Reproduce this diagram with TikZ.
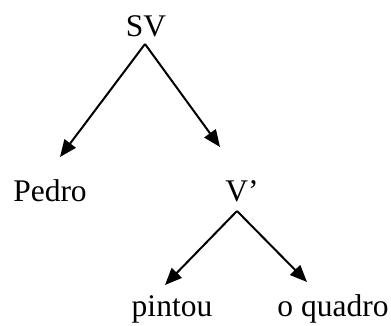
\documentclass[tikz,border=0pt]{standalone}
\usepackage{fontspec}
\setmainfont{Liberation Serif}
\usetikzlibrary{arrows.meta}
\begin{document}
\begin{tikzpicture}[x=1pt,y=-1pt,
  lbl/.style={anchor=base,inner sep=0pt,font=\fontsize{31.5}{36}\selectfont},
  arr/.style={line width=2pt,-{Triangle[length=17pt,width=14pt]}}]
\useasboundingbox (0,0) rectangle (391,325);
\node[lbl] (sv) at (146,36) {SV};
\node[lbl] (pedro) at (50,201) {Pedro};
\node[lbl] (vbar) at (242,201) {V’};
\node[lbl] (pintou) at (172,316) {pintou};
\node[lbl] (oq) at (333,316) {o quadro};
\coordinate (svap) at (145,44);
\coordinate (pedtip) at (60,157);
\coordinate (vbtip) at (220,147);
\coordinate (vbap) at (237,211);
\coordinate (pintip) at (165,285);
\coordinate (oqtip) at (307,282);
\draw[arr] (svap) -- (pedtip);
\draw[arr] (svap) -- (vbtip);
\draw[arr] (vbap) -- (pintip);
\draw[arr] (vbap) -- (oqtip);
\end{tikzpicture}
\end{document}
